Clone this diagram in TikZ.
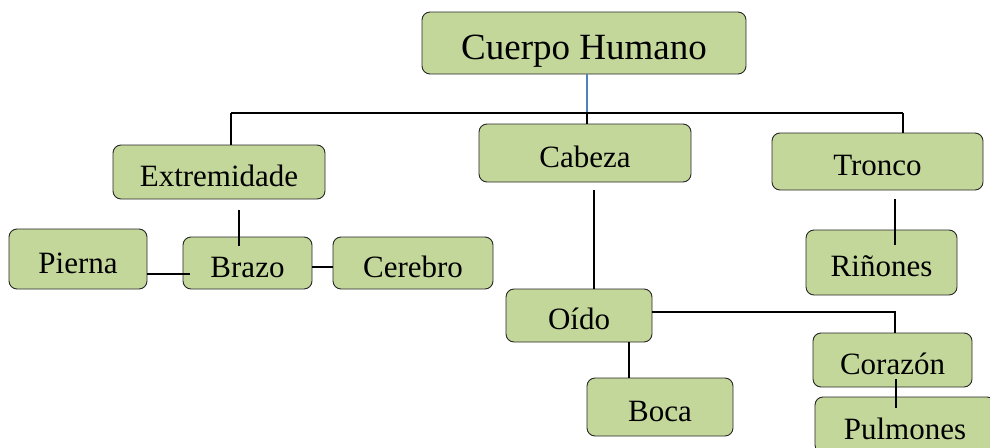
\documentclass[tikz,border=0pt]{standalone}
\usepackage{fontspec}
\setmainfont{Liberation Serif}
\definecolor{olivo}{HTML}{C4D79B}
\definecolor{borde}{HTML}{262626}
\definecolor{azul}{HTML}{4F81BD}
\begin{document}
\begin{tikzpicture}[x=1pt, y=-1pt,
	caja/.style={draw=borde, line width=0.9pt, fill=olivo, rounded corners=8pt, inner sep=0pt,
		text height=28pt, text depth=0pt, font=\fontsize{31}{31}\selectfont},
	raiz/.style={caja, text height=33pt, font=\fontsize{37}{37}\selectfont},
	linea/.style={black, line width=1.4pt},
	linea azul/.style={azul, line width=1.4pt}]

	\clip (0,0) rectangle (990,447);

	% Nodo principal
	\node[raiz, minimum width=324pt, minimum height=62pt] (cuerpo) at (584,43) {Cuerpo Humano};

	% Primer nivel
	\node[caja, minimum width=212pt, minimum height=54pt] (extrem) at (219,172) {Extremidade};
	\node[caja, minimum width=212pt, minimum height=58pt] (cabeza) at (585,153) {Cabeza};
	\node[caja, minimum width=211pt, minimum height=57pt] (tronco) at (877.5,161.5) {Tronco};

	% Extremidades
	\node[caja, minimum width=138pt, minimum height=60pt] (pierna) at (78,259) {Pierna};
	\node[caja, minimum width=129pt, minimum height=52pt] (brazo) at (247.5,263) {Brazo};
	\node[caja, minimum width=160pt, minimum height=52pt] (cerebro) at (413,263) {Cerebro};

	% Cabeza
	\node[caja, minimum width=146pt, minimum height=53pt] (oido) at (579,315.5) {Oído};
	\node[caja, minimum width=146pt, minimum height=58pt] (boca) at (660,407) {Boca};

	% Tronco
	\node[caja, minimum width=151pt, minimum height=65pt] (rinones) at (881.5,262.5) {Riñones};
	\node[caja, minimum width=159pt, minimum height=54pt] (corazon) at (892.5,360) {Corazón};
	\node[caja, minimum width=180pt, minimum height=56pt] (pulmones) at (905,425) {Pulmones};

	% Puntos libres de las lineas
	\coordinate (bus) at (587,113);
	\coordinate (busI) at (231,113);
	\coordinate (busD) at (903,113);
	\coordinate (eb1) at (239,210);
	\coordinate (eb2) at (239,246);
	\coordinate (pb) at (190,274);
	\coordinate (co) at (594,190);
	\coordinate (tr1) at (895,199);
	\coordinate (tr2) at (895,245);
	\coordinate (oc) at (895,312);
	\coordinate (cp1) at (896,379);
	\coordinate (cp2) at (896,408);

	% Lineas
	\draw[linea azul] (bus |- cuerpo.south) -- (bus);
	\draw[linea] (busI) -- (busD);
	\draw[linea] (busI) -- (busI |- extrem.north);
	\draw[linea] (bus) -- (bus |- cabeza.north);
	\draw[linea] (busD) -- (busD |- tronco.north);
	\draw[linea] (eb1) -- (eb2);
	\draw[linea] (pierna.east |- pb) -- (pb);
	\draw[linea] ([yshift=-4pt]brazo.east) -- ([yshift=-4pt]cerebro.west);
	\draw[linea] (co) -- (co |- oido.north);
	\draw[linea] ([xshift=50pt]oido.south) -- ([xshift=-31pt]boca.north);
	\draw[linea] (tr1) -- (tr2);
	\draw[linea] (oido.east |- oc) -- (oc) -- (oc |- corazon.north);
	\draw[linea] (cp1) -- (cp2);

\end{tikzpicture}
\end{document}
